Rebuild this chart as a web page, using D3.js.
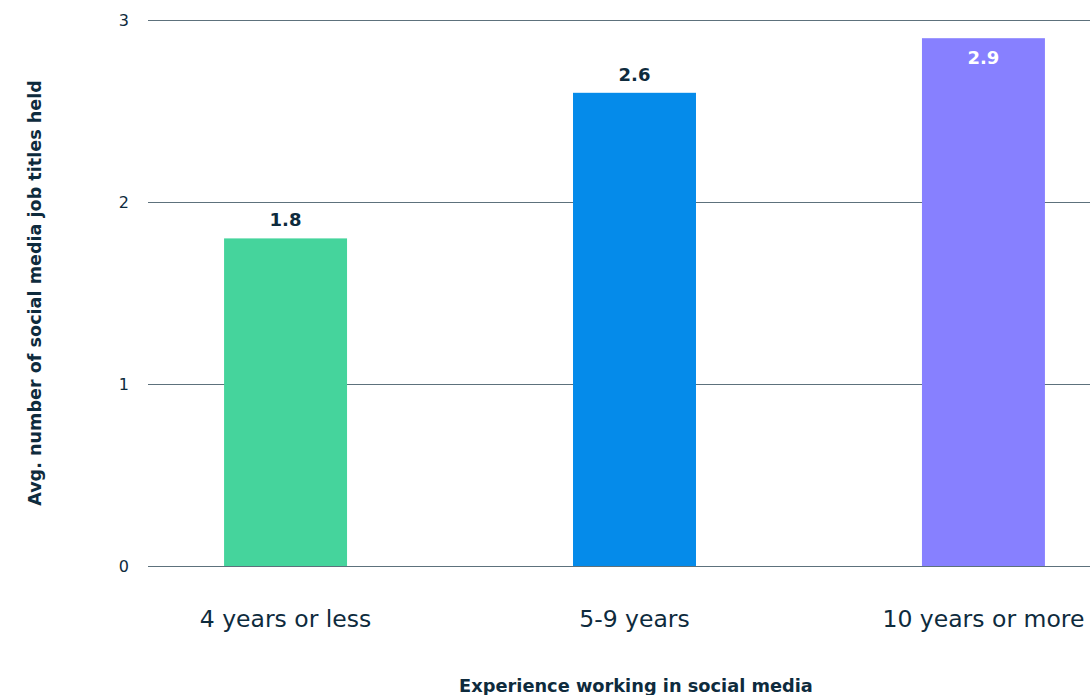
<!DOCTYPE html>
<html>
<head>
<meta charset="utf-8">
<script src="https://cdn.jsdelivr.net/npm/d3@7"></script>
<style>
  body { margin: 0; background: #fff; }
  svg { display: block; font-family: "DejaVu Sans", sans-serif; }
</style>
</head>
<body>
<svg id="chart" width="1090" height="695"></svg>
<script>
var categories = ['4 years or less', '5-9 years', '10 years or more'];
var values = [1.8, 2.6, 2.9];
var valueLabels = ['1.8', '2.6', '2.9'];
var barColors = ['#45d49c', '#058bea', '#8780ff'];
var yTicks = [0, 1, 2, 3];

var textColor = '#0e2b3d';
var svg = d3.select('#chart');

var plotLeft = 148, plotRight = 1121, plotTop = 20, plotBottom = 566;

var x = d3.scaleBand()
    .domain(categories)
    .range([plotLeft, plotRight])
    .paddingInner(0.6476)
    .paddingOuter(0.218);
var y = d3.scaleLinear()
    .domain([0, 3])
    .range([plotBottom, plotTop]);

// grid lines and y tick labels
var grid = svg.append('g').attr('class', 'grid');
grid.selectAll('line').data(yTicks)
    .enter().append('line')
    .attr('x1', plotLeft).attr('x2', 1090)
    .attr('y1', function(d) { return y(d) + 0.5; })
    .attr('y2', function(d) { return y(d) + 0.5; })
    .style('stroke', '#5d717c')
    .style('stroke-width', 1);
grid.selectAll('text').data(yTicks)
    .enter().append('text')
    .attr('x', 129)
    .attr('y', function(d) { return y(d); })
    .attr('dy', '0.35em')
    .style('text-anchor', 'end')
    .style('font-size', '16px')
    .style('fill', textColor)
    .text(function(d) { return d; });

// bars
svg.selectAll('.bar').data(values)
    .enter().append('rect')
    .attr('class', 'bar')
    .attr('x', function(d, i) { return x(categories[i]); })
    .attr('y', function(d) { return y(d); })
    .attr('width', x.bandwidth())
    .attr('height', function(d) { return y(0) - y(d); })
    .style('fill', function(d, i) { return barColors[i]; });

// value labels: above bar unless it would run into the top, then inside in white
svg.selectAll('.value').data(values)
    .enter().append('text')
    .attr('class', 'value')
    .attr('x', function(d, i) { return x(categories[i]) + x.bandwidth() / 2; })
    .attr('y', function(d) { return d > 2.8 ? y(d) + 26 : y(d) - 12; })
    .style('text-anchor', 'middle')
    .style('font-size', '18px')
    .style('font-weight', 'bold')
    .style('fill', function(d) { return d > 2.8 ? '#ffffff' : textColor; })
    .text(function(d, i) { return valueLabels[i]; });

// x category labels
svg.selectAll('.cat').data(categories)
    .enter().append('text')
    .attr('class', 'cat')
    .attr('x', function(d) { return x(d) + x.bandwidth() / 2; })
    .attr('y', 627)
    .style('text-anchor', 'middle')
    .style('font-size', '23.5px')
    .style('fill', textColor)
    .text(function(d) { return d; });

// axis titles
svg.append('text')
    .attr('x', 636).attr('y', 692)
    .style('text-anchor', 'middle')
    .style('font-size', '17.8px')
    .style('font-weight', 'bold')
    .style('fill', textColor)
    .text('Experience working in social media');

svg.append('text')
    .attr('transform', 'translate(41,293) rotate(-90)')
    .style('text-anchor', 'middle')
    .style('font-size', '17.6px')
    .style('font-weight', 'bold')
    .style('fill', textColor)
    .text('Avg. number of social media job titles held');
</script>
</body>
</html>
